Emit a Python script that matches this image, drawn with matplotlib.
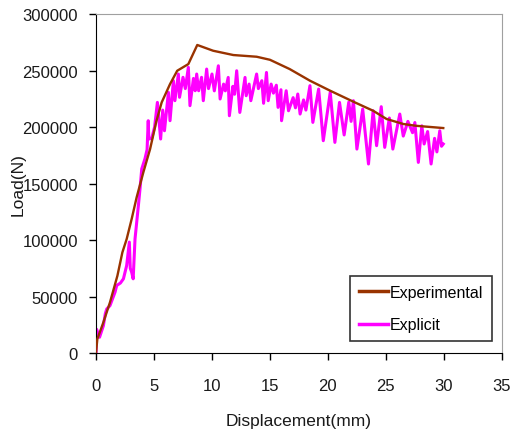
import matplotlib
matplotlib.use("Agg")
import matplotlib.pyplot as plt

# Experimental curve (brown)
exp_disp = [0, 0.11, 0.63, 1.2, 1.84, 2.27, 2.64, 3.07, 3.5, 4.08, 4.66, 5.2,
            5.66, 6.38, 7.0, 7.96, 8.73, 10.1, 11.84, 13.85, 15.0, 16.7, 18.45,
            20.2, 22.2, 23.9, 25.06, 26.5, 27.6, 29.95]
exp_load = [1000, 12400, 27200, 44900, 68400, 89100, 100900, 118600, 137800,
            160000, 180500, 205000, 221800, 238000, 249800, 255700, 272600,
            267500, 263700, 262200, 259500, 251300, 241000, 232100, 222400,
            214400, 207100, 202700, 201100, 199100]

# Explicit simulation (magenta), peaks and troughs
sim_disp = [0, 0.05, 0.3, 0.63, 0.8, 0.92, 1.2, 1.64, 1.78, 2.1, 2.36, 2.64,
            2.87, 2.95, 3.07, 3.2, 3.36, 3.65, 3.79, 3.94, 4.22, 4.4, 4.5, 4.55,
            4.8, 5.05, 5.29, 5.57, 5.75, 5.9, 6.24, 6.38, 6.67, 6.8, 7.1, 7.2,
            7.5, 7.7, 7.96, 8.1, 8.4, 8.55, 8.68, 8.85, 9.1, 9.25, 9.54, 9.7,
            10.0, 10.2, 10.55, 10.7, 11.0, 11.15, 11.4, 11.5, 11.8, 11.95,
            12.13, 12.4, 12.85, 12.95, 13.2, 13.35, 13.85, 14.0, 14.3, 14.45,
            14.7, 14.85, 15.1, 15.3, 15.55, 15.7, 15.95, 16.0, 16.4, 16.6,
            17.0, 17.2, 17.4, 17.6, 17.9, 18.1, 18.45, 18.7, 19.2, 19.6, 20.2,
            20.6, 21.0, 21.4, 21.8, 22.0, 22.2, 22.5, 23.0, 23.5, 23.9, 24.2,
            24.6, 24.9, 25.3, 25.6, 26.2, 26.5, 26.9, 27.3, 27.5, 27.8, 28.1,
            28.3, 28.6, 28.9, 29.2, 29.4, 29.65, 29.8, 29.95]
sim_load = [0, 21000, 14000, 24200, 35000, 39000, 42000, 54000, 59800, 62000,
            65700, 77500, 98200, 75000, 71600, 65700, 101000, 130500, 145300,
            163000, 172000, 180000, 205600, 189400, 190000, 200000, 221800,
            189400, 215000, 196700, 230700, 205600, 241000, 223300, 246900,
            226300, 244000, 234000, 252800, 218900, 243000, 232100, 246900,
            232100, 244000, 223300, 251300, 234000, 246900, 232000, 254200,
            224800, 238000, 232000, 243900, 210000, 236000, 229000, 249800,
            212900, 243900, 227700, 238000, 223300, 246900, 234000, 241000,
            221000, 248300, 223300, 238000, 230000, 237000, 217400, 233000,
            205600, 232100, 214400, 226000, 217000, 229200, 211500, 224000,
            215000, 236600, 204100, 233600, 187900, 230700, 186400, 221800,
            193000, 222000, 205000, 223300, 180500, 215900, 167300, 214400,
            183500, 218000, 182000, 208000, 180500, 211500, 192000, 205000,
            195000, 204000, 168700, 201100, 185000, 196000, 167300, 190000,
            178000, 196700, 183000, 185000]

x_ticks = [0, 5, 10, 15, 20, 25, 30, 35]
y_ticks = [0, 50000, 100000, 150000, 200000, 250000, 300000]

plt.rcParams['font.family'] = ['Liberation Sans', 'DejaVu Sans']

fig = plt.figure(figsize=(5.11, 4.35), dpi=100, facecolor='white')
ax = fig.add_axes([0.188, 0.186, 0.794, 0.7795])

ax.plot(exp_disp, exp_load, color='#993300', linewidth=1.7, label='Experimental', zorder=3)
ax.plot(sim_disp, sim_load, color='#ff00ff', linewidth=2.2, label='Explicit', zorder=2)

ax.set_xlim(0, 35)
ax.set_ylim(0, 300000)
ax.set_xticks(x_ticks)
ax.set_yticks(y_ticks)
ax.set_yticklabels([str(v) for v in y_ticks])
ax.tick_params(axis='both', direction='out', length=5, width=1, colors='black',
               labelcolor='#1a1a1a', labelsize=12)
ax.tick_params(axis='x', pad=13)
ax.tick_params(axis='y', pad=8)

for side in ['top', 'right']:
    ax.spines[side].set_color('#a0a0a0')
for side in ['left', 'bottom']:
    ax.spines[side].set_color('black')

ax.set_xlabel('Displacement(mm)', fontsize=12.5, color='#1a1a1a')
ax.set_ylabel('Load(N)', fontsize=12.5, color='#1a1a1a')
ax.xaxis.set_label_coords(0.5, -0.198)
ax.xaxis.label.set_va('center')
ax.yaxis.set_label_coords(-0.192, 0.5)
ax.yaxis.label.set_va('center')

leg = ax.legend(loc='lower right', bbox_to_anchor=(0.976, 0.035), borderaxespad=0,
                fontsize=11.5, frameon=True, fancybox=False, edgecolor='black',
                handlelength=1.8, handletextpad=0.15, borderpad=0.55,
                labelspacing=1.1)
leg.get_frame().set_linewidth(1.2)
for line in leg.get_lines():
    line.set_linewidth(2.5)

fig.savefig('out.png', dpi=100, facecolor='white')
